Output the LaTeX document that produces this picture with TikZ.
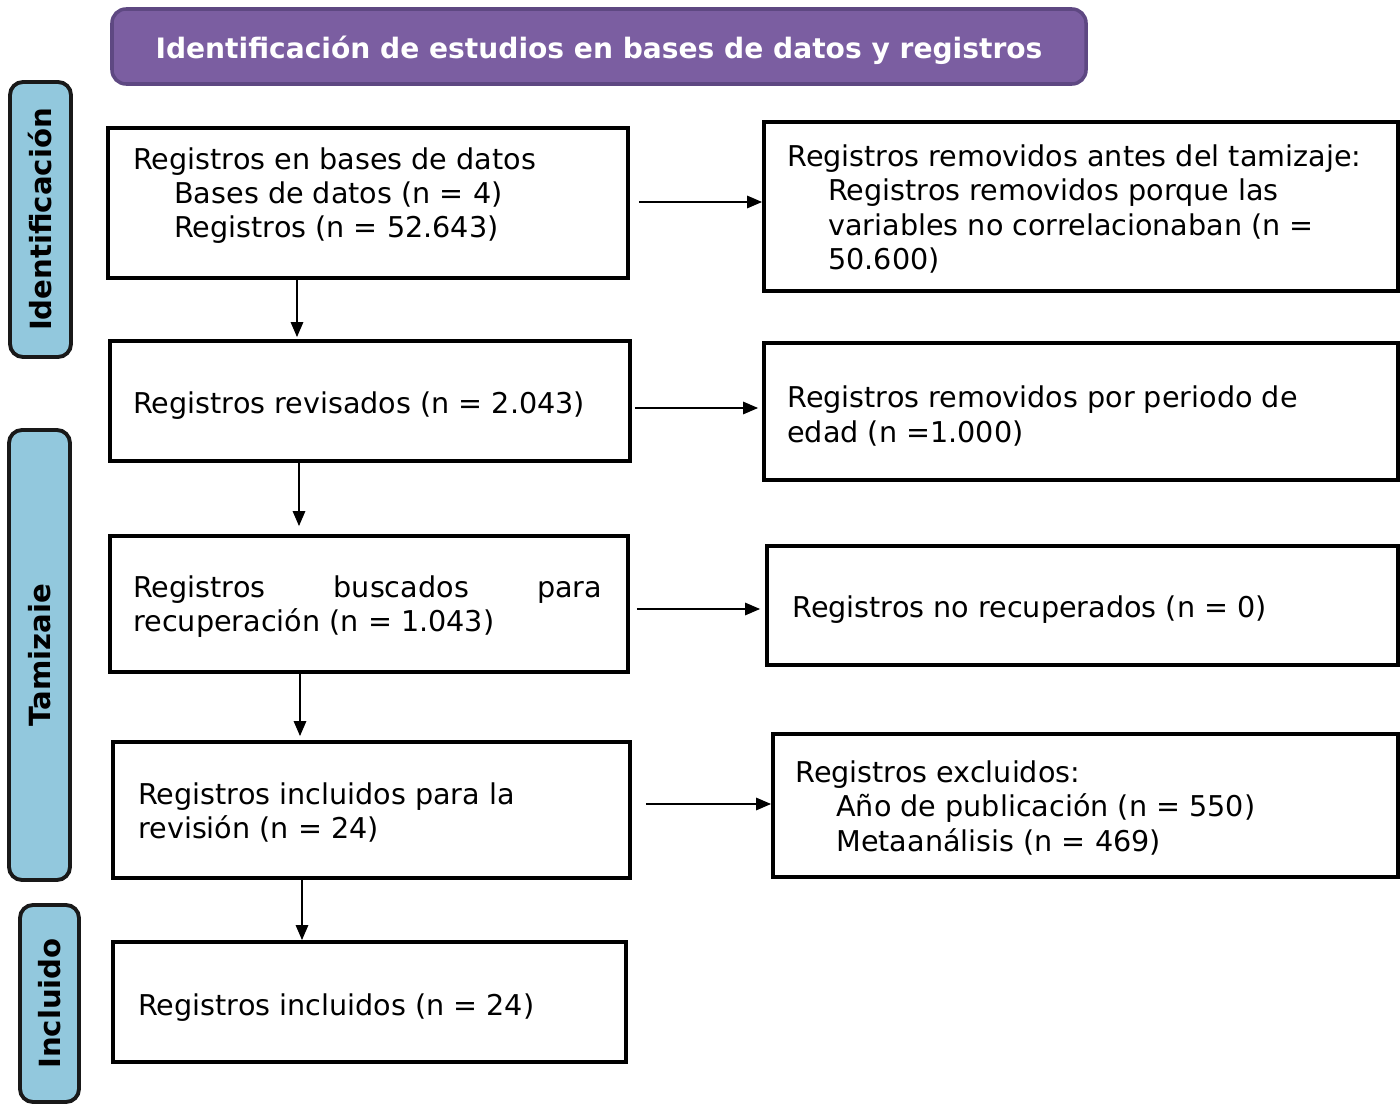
\documentclass[tikz,border=0pt]{standalone}
\usepackage{fontspec}
\setmainfont{DejaVu Sans}
\usetikzlibrary{arrows.meta}
\definecolor{titlefill}{RGB}{123,94,161}
\definecolor{titledraw}{RGB}{94,72,130}
\definecolor{sidefill}{RGB}{146,200,221}
\newcommand\pxu{0.02cm}
\begin{document}
\begin{tikzpicture}[x=0.02cm,y=-0.02cm,
 box/.style={draw=black, line width=2.2pt, inner sep=0pt, fill=white},
 txt/.style={anchor=west, align=left, inner sep=0pt, yshift=-0.06cm, font=\fontsize{16.3pt}{19.45pt}\selectfont},
 arr/.style={-{Triangle[length=0.3cm,width=0.25cm]}, line width=0.85pt},
 side/.style={draw=black!90, line width=2.2pt, fill=sidefill, rounded corners=0.26cm, rotate=90, inner sep=0pt, font=\fontsize{16.6pt}{20pt}\selectfont\bfseries},
 titlebox/.style={draw=titledraw, line width=2pt, fill=titlefill, rounded corners=0.28cm, inner sep=0pt, text height=0.61cm, text=white, font=\fontsize{16pt}{19pt}\selectfont\bfseries},
]
\useasboundingbox (0,0) rectangle (1400,1104);

% title
\node[titlebox, minimum width=974*\pxu, minimum height=75*\pxu] (title) at (599,46.5) {Identificación de estudios en bases de datos y registros};

% side labels
\node[side, minimum width=275*\pxu, minimum height=61*\pxu] (sideA) at (40.5,219.5) {Identificación};
\node[side, minimum width=450*\pxu, minimum height=61*\pxu] (sideB) at (39.5,655) {Tamizaie};
\node[side, minimum width=197*\pxu, minimum height=59*\pxu] (sideC) at (49.5,1003.5) {Incluido};

% left boxes
\node[box, minimum width=520*\pxu, minimum height=150*\pxu] (L1) at (368,203) {};
\node[box, minimum width=520*\pxu, minimum height=120*\pxu] (L2) at (370,401) {};
\node[box, minimum width=518*\pxu, minimum height=136*\pxu] (L3) at (369,604) {};
\node[box, minimum width=517*\pxu, minimum height=136*\pxu] (L4) at (371.5,810) {};
\node[box, minimum width=513*\pxu, minimum height=120*\pxu] (L5) at (369.5,1002) {};

% right boxes
\node[box, minimum width=634*\pxu, minimum height=169*\pxu] (R1) at (1081,206.5) {};
\node[box, minimum width=634*\pxu, minimum height=137*\pxu] (R2) at (1081,411.5) {};
\node[box, minimum width=631*\pxu, minimum height=119*\pxu] (R3) at (1082.5,605.5) {};
\node[box, minimum width=625*\pxu, minimum height=143*\pxu] (R4) at (1085.5,805.5) {};

% texts
\node[txt] (t1) at (133,192.5) {Registros en bases de datos\\\hspace*{0.82cm}Bases de datos (n = 4)\\\hspace*{0.82cm}Registros (n = 52.643)};
\node[txt] (t2) at (133,403) {Registros revisados (n = 2.043)};
\node[txt] (t3) at (133,604) {\makebox[9.38cm][l]{Registros\hfill buscados\hfill para}\\recuperación (n = 1.043)};
\node[txt] (t4) at (138,809.5) {Registros incluidos para la\\revisión (n = 24)};
\node[txt] (t5) at (138,1005) {Registros incluidos (n = 24)};

\node[txt] (u1) at (787,206) {Registros removidos antes del tamizaje:\\\hspace*{0.82cm}Registros removidos porque las\\\hspace*{0.82cm}variables no correlacionaban (n =\\\hspace*{0.82cm}50.600)};
\node[txt] (u2) at (787,413) {Registros removidos por periodo de\\edad (n =1.000)};
\node[txt] (u3) at (792,607) {Registros no recuperados (n = 0)};
\node[txt] (u4) at (795,805) {Registros excluidos:\\\hspace*{0.82cm}Año de publicación (n = 550)\\\hspace*{0.82cm}Metaanálisis (n = 469)};

% down arrows
\coordinate (d1) at (297,0);
\coordinate (d2) at (299,0);
\coordinate (d3) at (300,0);
\coordinate (d4) at (302,0);
\draw[arr, shorten >=2*\pxu] (L1.south -| d1) -- (L2.north -| d1);
\draw[arr, shorten >=8*\pxu] (L2.south -| d2) -- (L3.north -| d2);
\draw[arr, shorten >=4*\pxu] (L3.south -| d3) -- (L4.north -| d3);
\draw[arr] (L4.south -| d4) -- (L5.north -| d4);

% right arrows
\coordinate (r1) at (0,202);
\coordinate (r2) at (0,408);
\coordinate (r3) at (0,609);
\coordinate (r4) at (0,804);
\draw[arr, shorten <=9*\pxu] (L1.east |- r1) -- (R1.west |- r1);
\draw[arr, shorten <=3*\pxu, shorten >=4*\pxu] (L2.east |- r2) -- (R2.west |- r2);
\draw[arr, shorten <=7*\pxu, shorten >=5*\pxu] (L3.east |- r3) -- (R3.west |- r3);
\draw[arr, shorten <=14*\pxu] (L4.east |- r4) -- (R4.west |- r4);
\end{tikzpicture}
\end{document}
